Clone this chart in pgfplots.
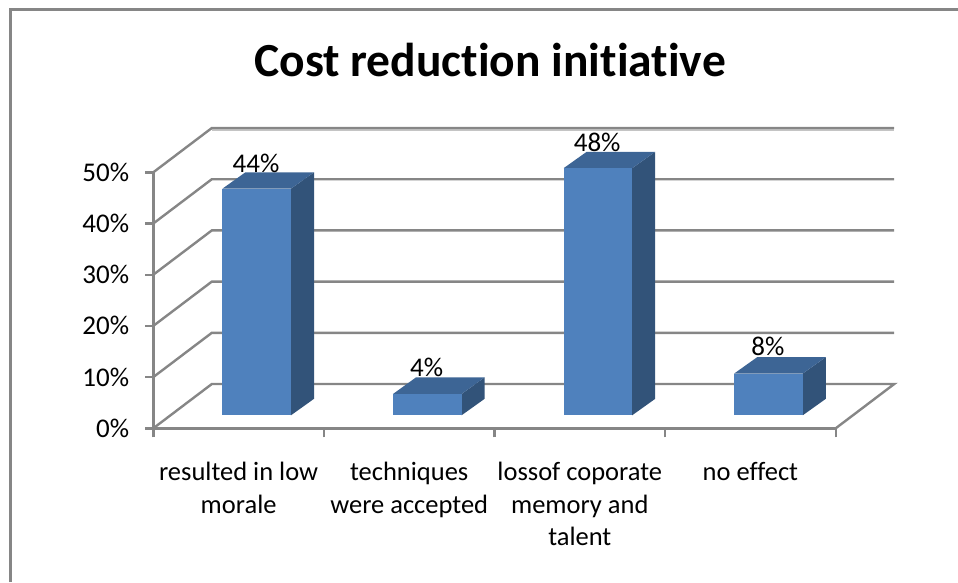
\documentclass[border=0pt]{standalone}
\usepackage{pgfplots}
\pgfplotsset{compat=1.18}
\usepackage{fontspec}
\setmainfont[Ligatures=NoCommon]{Carlito}
\definecolor{axgray}{HTML}{868686}
\definecolor{shad}{HTML}{C4C4C4}
\definecolor{barfront}{HTML}{4F81BD}
\definecolor{bartop}{HTML}{3D6595}
\definecolor{barside}{HTML}{325379}
\begin{document}
\begin{tikzpicture}
\path[use as bounding box] (0pt,0pt) rectangle (958pt,582pt);
\draw[axgray,line width=2.8pt] (10.7pt,0pt) -- (10.7pt,572.7pt) -- (958pt,572.7pt);
\node[font=\fontsize{47.5}{56}\selectfont\bfseries,anchor=base] at (490pt,505.5pt) {Cost reduction initiative};
\begin{axis}[
  at={(153.3pt,153.7pt)},anchor=south west,
  scale only axis,width=682.4pt,height=256pt,
  xmin=0,xmax=4,ymin=0,ymax=50,clip=false,
  axis x line=bottom,axis y line=left,
  axis line style={axgray,line width=2.6pt,-},
  every tick/.style={axgray,line width=2.4pt},
  xtick={0.5,1.5,2.5,3.5},
  xticklabels={{resulted in low\\morale},{techniques\\were accepted},{lossof coporate\\memory and\\talent},{no effect}},
  major x tick style={draw=none},
  minor xtick={0,1,2,3,4},
  minor x tick style={axgray,line width=2.4pt},
  minor tick length=9pt,
  xtick align=outside,ytick align=outside,
  ytick={0,10,20,30,40,50},
  major tick length=8pt,
  yticklabel={\pgfmathprintnumber{\tick}\%},
  /pgf/number format/assume math mode=true,
  xticklabel style={font=\fontsize{26.5}{32.5}\selectfont,align=center,yshift=-26pt,inner sep=0pt,anchor=north},
  yticklabel style={font=\fontsize{27}{32}\selectfont,xshift=-14pt,inner sep=2pt},
  nodes near coords={\pgfmathprintnumber{\pgfplotspointmeta}\%},
  every node near coord/.style={anchor=south,inner sep=0pt,text depth=0pt,font=\fontsize{27}{32}\selectfont,black},
]
% walls and floor
\addplot[shad,line width=2.4pt,no marks,nodes near coords={}] coordinates {(0.343,58.3) (4.343,58.3)};
\addplot[axgray,line width=2.4pt,no marks,nodes near coords={}] coordinates {(0,50) (0.343,58.65) (4.343,58.65)};
\addplot[axgray,line width=2.4pt,no marks,nodes near coords={}] coordinates {(0,40) (0.343,48.65) (4.343,48.65)};
\addplot[axgray,line width=2.4pt,no marks,nodes near coords={}] coordinates {(0,30) (0.343,38.65) (4.343,38.65)};
\addplot[axgray,line width=2.4pt,no marks,nodes near coords={}] coordinates {(0,20) (0.343,28.65) (4.343,28.65)};
\addplot[axgray,line width=2.4pt,no marks,nodes near coords={}] coordinates {(0,10) (0.343,18.65) (4.343,18.65)};
\addplot[axgray,line width=2.4pt,no marks,nodes near coords={}] coordinates {(0,0) (0.343,8.65) (4.343,8.65) (4,0)};
% bar 1: 44
\addplot[fill=barside,draw=none,no marks,nodes near coords={}] coordinates {(0.807,2.54) (0.942,5.76) (0.942,50.0) (0.807,46.8)} -- cycle;
\addplot[fill=bartop,draw=none,no marks,nodes near coords={}] coordinates {(0.405,46.8) (0.807,46.8) (0.942,50.0) (0.54,50.0)} -- cycle;
\addplot[fill=barfront,draw=none,no marks,nodes near coords={}] coordinates {(0.405,2.54) (0.807,2.54) (0.807,46.8) (0.405,46.8)} -- cycle;
% bar 2: 4
\addplot[fill=barside,draw=none,no marks,nodes near coords={}] coordinates {(1.807,2.54) (1.942,5.76) (1.942,9.95) (1.807,6.7)} -- cycle;
\addplot[fill=bartop,draw=none,no marks,nodes near coords={}] coordinates {(1.405,6.7) (1.807,6.7) (1.942,9.95) (1.54,9.95)} -- cycle;
\addplot[fill=barfront,draw=none,no marks,nodes near coords={}] coordinates {(1.405,2.54) (1.807,2.54) (1.807,6.7) (1.405,6.7)} -- cycle;
% bar 3: 48
\addplot[fill=barside,draw=none,no marks,nodes near coords={}] coordinates {(2.807,2.54) (2.942,5.76) (2.942,54.0) (2.807,50.8)} -- cycle;
\addplot[fill=bartop,draw=none,no marks,nodes near coords={}] coordinates {(2.405,50.8) (2.807,50.8) (2.942,54.0) (2.54,54.0)} -- cycle;
\addplot[fill=barfront,draw=none,no marks,nodes near coords={}] coordinates {(2.405,2.54) (2.807,2.54) (2.807,50.8) (2.405,50.8)} -- cycle;
% bar 4: 8
\addplot[fill=barside,draw=none,no marks,nodes near coords={}] coordinates {(3.807,2.54) (3.942,5.76) (3.942,13.9) (3.807,10.7)} -- cycle;
\addplot[fill=bartop,draw=none,no marks,nodes near coords={}] coordinates {(3.405,10.7) (3.807,10.7) (3.942,13.9) (3.54,13.9)} -- cycle;
\addplot[fill=barfront,draw=none,no marks,nodes near coords={}] coordinates {(3.405,2.54) (3.807,2.54) (3.807,10.7) (3.405,10.7)} -- cycle;
% data labels
\addplot[only marks,mark=none,point meta=explicit] coordinates {(0.602,50.0) [44] (1.602,10.1) [4] (2.602,54.1) [48] (3.602,14.1) [8]};
\end{axis}
\end{tikzpicture}
\end{document}
